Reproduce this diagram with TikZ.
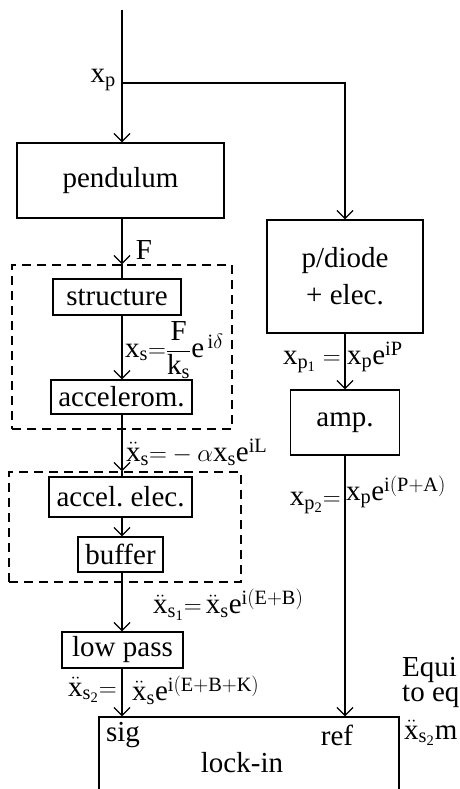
\documentclass[tikz,border=0pt]{standalone}
\usepackage{fontspec}
\setmainfont{Liberation Serif}
\usepackage{amsmath}
\usetikzlibrary{arrows.meta, positioning}
\tikzset{
  blk/.style={draw, line width=1.3pt, inner sep=0pt, font=\fontsize{29}{37}\selectfont},
  grp/.style={draw, line width=1.3pt, dash pattern=on 9pt off 6pt, inner sep=0pt},
  flow/.style={line width=1.3pt, -{Straight Barb[length=8pt,width=16pt,line width=1.3pt]}},
  wire/.style={line width=1.3pt},
  lbl/.style={font=\fontsize{29}{34}\selectfont, inner sep=0pt}
}
\begin{document}
\begin{tikzpicture}[x=1pt,y=-1pt]
\useasboundingbox (0,0) rectangle (459,789);
\clip (0,0) rectangle (459,789);

% left column
\node[blk, minimum width=207pt, minimum height=75pt] (pendulum) at (120.5,180.5) {pendulum};
\node[grp, minimum width=220pt, minimum height=164pt] (grpA) at (122,347) {};
\node[blk, minimum width=128pt, minimum height=36pt] (structure) at (117,297) {structure};
\node[blk, minimum width=141pt, minimum height=34pt] (accel) at (121.5,397) {accelerom.};
\node[grp, minimum width=232pt, minimum height=110pt] (grpB) at (125,527) {};
\node[blk, minimum width=143pt, minimum height=40pt] (accelelec) at (120.5,497) {accel.\ elec.};
\node[blk, minimum width=85pt, minimum height=35pt] (buffer) at (120.5,554.5) {buffer};
\node[blk, minimum width=121pt, minimum height=36pt] (lowpass) at (122.5,650) {low pass};

% right column
\node[blk, minimum width=156pt, minimum height=113pt, align=center] (diode) at (345,276.5) {p/diode\\+ elec.};
\node[blk, minimum width=109pt, minimum height=65pt] (amp) at (345,422.5) {amp.};

% lock-in
\node[blk, minimum width=300pt, minimum height=133pt] (lockin) at (249,783.5) {};
\node[lbl] (sigin) at (123,735) {sig};
\node[lbl] (refin) at (337,735) {ref};
\node[lbl] (lockintxt) at (242,763) {lock-in};

% connectors
\coordinate (axis) at (122,0);
\coordinate (top) at (122,10);
\coordinate (split) at (122,83);
\draw[wire] (top) -- (split);
\draw[flow] (split) -- (axis |- pendulum.north);
\draw[flow] (split) -| (diode.north);
\draw[flow] (axis |- pendulum.south) -- (axis |- grpA.north);
\draw[wire] (axis |- grpA.north) -- (axis |- structure.north);
\draw[flow] (axis |- structure.south) -- (axis |- accel.north);
\draw[flow] (axis |- accel.south) -- (axis |- grpB.north);
\draw[wire] (axis |- grpB.north) -- (axis |- accelelec.north);
\draw[flow] (axis |- accelelec.south) -- (axis |- buffer.north);
\draw[flow] (axis |- buffer.south) -- (axis |- lowpass.north);
\draw[flow] (axis |- lowpass.south) -- (axis |- lockin.north);
\draw[flow] (diode.south) -- (amp.north);
\draw[flow] (amp.south) -- (amp.south |- lockin.north);

% signal labels
\node[lbl, anchor=east] (xp) at (116,80) {$\mathrm{x_p}$};
\node[lbl] (force) at (144,250) {F};
\node[lbl, anchor=west] (xs) at (125,350) {$\mathrm{x_s{=}\dfrac{F}{k_s}e^{\,i\delta}}$};
\node[lbl, anchor=west] (xsdd) at (126,452) {$\ddot{\mathrm{x}}_\mathrm{s}{=}-\alpha\mathrm{x_s e^{iL}}$};
\node[lbl, anchor=west] (xsa) at (153,605) {$\ddot{\mathrm{x}}_{\mathrm{s_1}}{=}\,\ddot{\mathrm{x}}_\mathrm{s}\mathrm{e^{i(E+B)}}$};
\node[lbl, anchor=east] (xsbl) at (117,690) {$\ddot{\mathrm{x}}_{\mathrm{s_2}}{=}$};
\node[lbl, anchor=west] (xsbr) at (132,690) {$\ddot{\mathrm{x}}_\mathrm{s}\mathrm{e^{i(E+B+K)}}$};
\node[lbl, anchor=east] (xpal) at (341,362) {$\mathrm{x_{p_1}}=$};
\node[lbl, anchor=west] (xpar) at (347,357) {$\mathrm{x_p e^{iP}}$};
\node[lbl, anchor=east] (xpbl) at (341,503) {$\mathrm{x_{p_2}}{=}$};
\node[lbl, anchor=west] (xpbr) at (346,492) {$\mathrm{x_p e^{i(P+A)}}$};

% note at right edge, cut off as printed
\node[lbl, anchor=west] (note1) at (402,670) {Equi};
\node[lbl, anchor=west] (note2) at (402,696) {to eq};
\node[lbl, anchor=west] (note3) at (404,733) {$\ddot{\mathrm{x}}_{\mathrm{s_2}}$m};
\end{tikzpicture}
\end{document}
